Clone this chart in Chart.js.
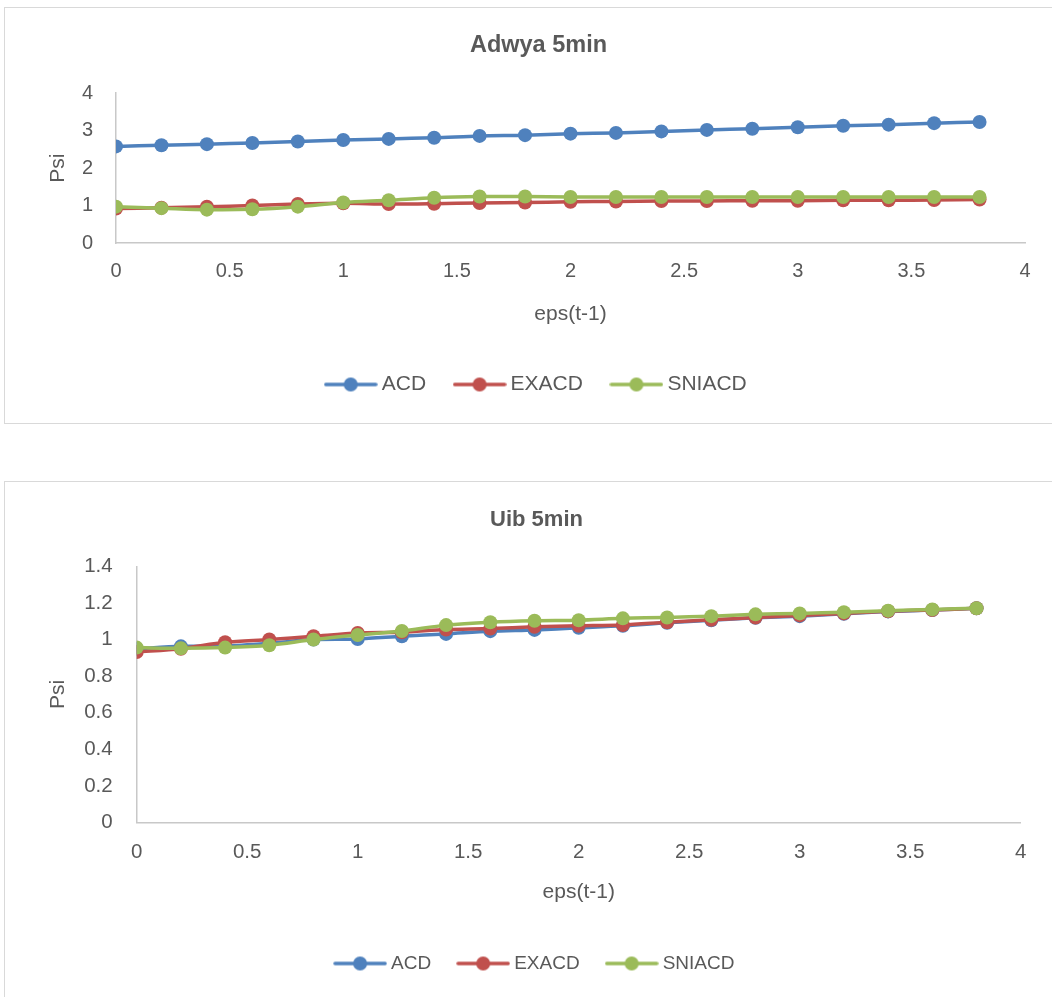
<!DOCTYPE html>
<html>
<head>
<meta charset="utf-8">
<script src="https://cdn.jsdelivr.net/npm/chart.js@4.4.1/dist/chart.umd.min.js"></script>
<style>
  body { margin: 0; background: #fff; }
  .box { position: absolute; left: 4px; width: 1060px; border: 1px solid #d9d9d9; overflow: hidden; background: #fff; }
  #box1 { top: 7px; height: 415px; }
  #box2 { top: 481px; height: 530px; }
  .box canvas { position: absolute; left: 0; top: 0; }
</style>
</head>
<body>
<div class="box" id="box1"><canvas id="adwya" width="1047" height="397"></canvas></div>
<div class="box" id="box2"><canvas id="uib" width="1047" height="501"></canvas></div>
<script>
const seriesNames = ['ACD', 'EXACD', 'SNIACD'];
const colors = ['#4f81bd', '#c0504d', '#9bbb59'];

// eps(t-1) values where the curves are evaluated
const eps = [0, 0.2, 0.4, 0.6, 0.8, 1, 1.2, 1.4, 1.6, 1.8, 2, 2.2, 2.4, 2.6, 2.8, 3, 3.2, 3.4, 3.6, 3.8];

// Adwya 5min
const adwyaACD = [2.58, 2.61, 2.64, 2.67, 2.71, 2.75, 2.78, 2.81, 2.86, 2.88, 2.92, 2.94, 2.98, 3.02, 3.05, 3.09, 3.13, 3.16, 3.20, 3.23];
const adwyaEXACD = [0.92, 0.94, 0.97, 1.00, 1.04, 1.06, 1.04, 1.05, 1.07, 1.08, 1.10, 1.11, 1.12, 1.12, 1.13, 1.13, 1.14, 1.14, 1.15, 1.16];
const adwyaSNIACD = [0.97, 0.93, 0.89, 0.90, 0.97, 1.08, 1.14, 1.21, 1.24, 1.24, 1.23, 1.23, 1.23, 1.23, 1.23, 1.23, 1.23, 1.23, 1.23, 1.23];

// Uib 5min
const uibACD = [0.95, 0.963, 0.965, 0.98, 1.0, 1.003, 1.018, 1.031, 1.046, 1.053, 1.064, 1.075, 1.092, 1.105, 1.119, 1.128, 1.141, 1.154, 1.161, 1.171];
const uibEXACD = [0.932, 0.95, 0.985, 1.0, 1.018, 1.036, 1.04, 1.055, 1.06, 1.07, 1.075, 1.08, 1.095, 1.108, 1.12, 1.132, 1.143, 1.155, 1.162, 1.171];
const uibSNIACD = [0.956, 0.952, 0.956, 0.969, 1.0, 1.025, 1.047, 1.079, 1.095, 1.103, 1.106, 1.116, 1.121, 1.128, 1.138, 1.143, 1.15, 1.158, 1.165, 1.171];

const FONT = "'Liberation Sans', Arial, sans-serif";
const TEXT = '#595959';

// little line + dot marker for the legend, like Excel's
function legendMark(color) {
  const c = document.createElement('canvas');
  c.width = 54; c.height = 16;
  const g = c.getContext('2d');
  g.strokeStyle = color; g.lineWidth = 3.5; g.lineCap = 'round';
  g.beginPath(); g.moveTo(2, 8); g.lineTo(52, 8); g.stroke();
  g.fillStyle = color;
  g.beginPath(); g.arc(27, 8, 7, 0, Math.PI * 2); g.fill();
  return c;
}
const marks = colors.map(legendMark);

// 1 instead of 1.0, 0.5 stays 0.5
const plain = v => String(+Number(v).toFixed(2));

function makeChart(id, title, values, cfg) {
  const datasets = values.map((vals, i) => ({
    label: seriesNames[i],
    data: vals.map((v, j) => ({ x: eps[j], y: v })),
    borderColor: colors[i],
    backgroundColor: colors[i],
    borderWidth: 3.5,
    pointRadius: 7,
    pointBorderWidth: 0,
    pointBackgroundColor: colors[i],
    tension: 0.3,
    order: values.length - i
  }));

  return new Chart(document.getElementById(id), {
    type: 'line',
    data: { datasets },
    options: {
      responsive: false,
      animation: false,
      layout: { padding: { left: cfg.padLeft, right: cfg.padRight, top: 0, bottom: 0 } },
      plugins: {
        title: {
          display: true,
          text: title,
          color: TEXT,
          font: { family: FONT, size: cfg.titleSize, weight: 'bold' },
          padding: { top: cfg.titleTop, bottom: cfg.titleBottom }
        },
        legend: {
          position: 'bottom',
          labels: {
            usePointStyle: true,
            pointStyleWidth: cfg.legendBox,
            padding: cfg.legendPad,
            color: TEXT,
            font: { family: FONT, size: cfg.legendSize },
            generateLabels(chart) {
              const items = Chart.defaults.plugins.legend.labels.generateLabels(chart);
              items.sort((a, b) => a.datasetIndex - b.datasetIndex);
              items.forEach(it => { it.pointStyle = marks[it.datasetIndex]; });
              return items;
            }
          }
        },
        tooltip: { enabled: false }
      },
      scales: {
        x: {
          type: 'linear',
          min: 0,
          max: 4,
          afterFit(scale) { scale.height = cfg.xHeight; },
          grid: { display: false, drawTicks: false, tickLength: 0 },
          border: { display: true, color: '#c8c8c8', width: 1.5 },
          ticks: { stepSize: 0.5, padding: cfg.xTickPad, color: TEXT, font: { family: FONT, size: cfg.tickSize }, callback: plain },
          title: {
            display: true,
            text: 'eps(t-1)',
            color: TEXT,
            font: { family: FONT, size: 21 },
            padding: { top: 0, bottom: cfg.xTitlePad }
          }
        },
        y: {
          min: 0,
          max: cfg.yMax,
          afterFit(scale) { scale.width = cfg.yWidth; },
          grid: { display: false, drawTicks: false, tickLength: 0 },
          border: { display: true, color: '#c8c8c8', width: 1.5 },
          ticks: { stepSize: cfg.yStep, padding: cfg.yTickPad, color: TEXT, font: { family: FONT, size: cfg.tickSize }, callback: plain },
          title: {
            display: true,
            text: 'Psi',
            color: TEXT,
            font: { family: FONT, size: 21 },
            padding: { top: cfg.psiPad, bottom: 0 }
          }
        }
      }
    }
  });
}

makeChart('adwya', 'Adwya 5min', [adwyaACD, adwyaEXACD, adwyaSNIACD], {
  titleSize: 23.5, titleTop: 23, titleBottom: 34,
  legendSize: 21, legendBox: 41, legendPad: 33,
  tickSize: 20, xHeight: 98, xTickPad: 16, xTitlePad: 14,
  padLeft: 47, yWidth: 64, psiPad: -6.6, yTickPad: 23, yMax: 4, yStep: 1, padRight: 27
});

makeChart('uib', 'Uib 5min', [uibACD, uibEXACD, uibSNIACD], {
  titleSize: 22, titleTop: 25, titleBottom: 33,
  legendSize: 19, legendBox: 43, legendPad: 30.5,
  tickSize: 20.5, xHeight: 101, xTickPad: 18, xTitlePad: 19,
  padLeft: 47.3, yWidth: 84.4, psiPad: -6.9, yTickPad: 24, yMax: 1.4, yStep: 0.2, padRight: 31.3
});
</script>
</body>
</html>
